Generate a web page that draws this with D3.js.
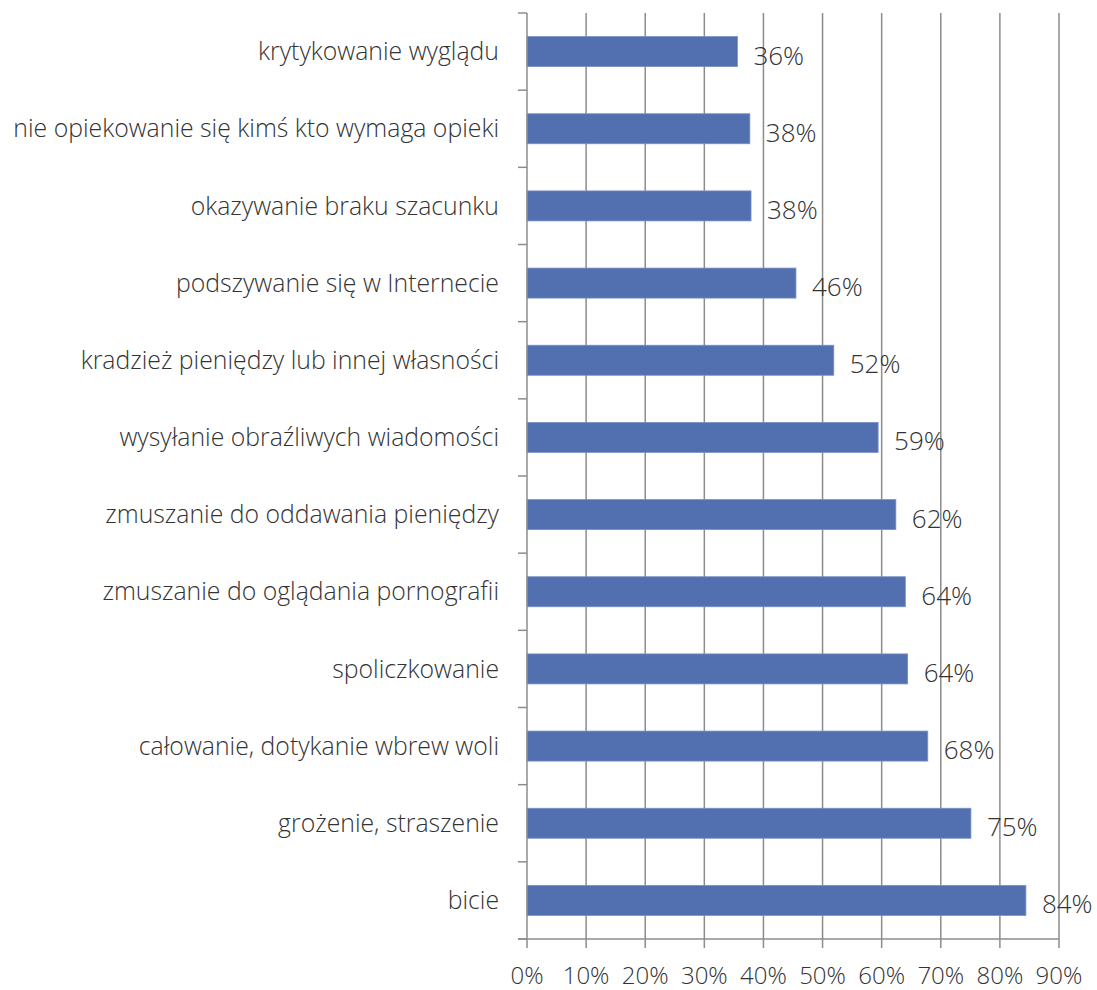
<!DOCTYPE html>
<html>
<head>
<meta charset="utf-8">
<script src="https://cdn.jsdelivr.net/npm/d3@7"></script>
<style>
  html, body { margin: 0; padding: 0; background: #ffffff; }
  svg { display: block; }
  text { font-family: "Open Sans", "Noto Sans", sans-serif; }
</style>
</head>
<body>
<svg id="chart" width="1097" height="990"></svg>
<script>
const categories = [
  "krytykowanie wyglądu",
  "nie opiekowanie się kimś kto wymaga opieki",
  "okazywanie braku szacunku",
  "podszywanie się w Internecie",
  "kradzież pieniędzy lub innej własności",
  "wysyłanie obraźliwych wiadomości",
  "zmuszanie do oddawania pieniędzy",
  "zmuszanie do oglądania pornografii",
  "spoliczkowanie",
  "całowanie, dotykanie wbrew woli",
  "grożenie, straszenie",
  "bicie"
];
const values = [0.356, 0.377, 0.379, 0.455, 0.519, 0.594, 0.624, 0.640, 0.644, 0.678, 0.751, 0.844];
const valueLabels = ["36%", "38%", "38%", "46%", "52%", "59%", "62%", "64%", "64%", "68%", "75%", "84%"];
const xTicks = [0, 0.1, 0.2, 0.3, 0.4, 0.5, 0.6, 0.7, 0.8, 0.9];
const xTickLabels = ["0%", "10%", "20%", "30%", "40%", "50%", "60%", "70%", "80%", "90%"];

(function () {
const svg = d3.select("#chart");
const pLeft = 527, pRight = 1059, pTop = 13, pBottom = 939;
const gridColor = "#8c8c8c";
const textColor = "#333333";

const x = d3.scaleLinear().domain([0, 0.9]).range([pLeft, pRight]);
const y = d3.scaleBand().domain(categories).range([pTop, pBottom])
  .paddingInner(0.611).paddingOuter(0.3055);

// vertical gridlines
svg.append("g").selectAll("line").data(xTicks.slice(1)).join("line")
  .attr("x1", d => x(d)).attr("x2", d => x(d))
  .attr("y1", pTop).attr("y2", pBottom)
  .attr("stroke", gridColor).attr("stroke-width", 1.5);

// bars
svg.append("g").selectAll("rect").data(categories).join("rect")
  .attr("x", x(0))
  .attr("y", d => y(d))
  .attr("width", (d, i) => x(values[i]) - x(0))
  .attr("height", y.bandwidth())
  .attr("fill", "#5270b0")
  .attr("stroke", "#7890c4")
  .attr("stroke-width", 0.8);

// y axis line and ticks at category boundaries
svg.append("line").attr("x1", pLeft).attr("x2", pLeft).attr("y1", pTop).attr("y2", pBottom)
  .attr("stroke", gridColor).attr("stroke-width", 1.5);
const boundaries = d3.range(categories.length + 1).map(i => pTop + i * y.step());
svg.append("g").selectAll("line").data(boundaries).join("line")
  .attr("x1", pLeft - 9).attr("x2", pLeft)
  .attr("y1", d => d).attr("y2", d => d)
  .attr("stroke", gridColor).attr("stroke-width", 1.5);

// x axis line and ticks
svg.append("line").attr("x1", pLeft - 9).attr("x2", pRight).attr("y1", pBottom).attr("y2", pBottom)
  .attr("stroke", gridColor).attr("stroke-width", 1.5);
svg.append("g").selectAll("line").data(xTicks).join("line")
  .attr("x1", d => x(d)).attr("x2", d => x(d))
  .attr("y1", pBottom).attr("y2", pBottom + 9)
  .attr("stroke", gridColor).attr("stroke-width", 1.5);

// x tick labels
svg.append("g").selectAll("text").data(xTicks).join("text")
  .attr("x", d => x(d)).attr("y", 984)
  .attr("text-anchor", "middle")
  .attr("font-size", 24).attr("font-weight", 300)
  .attr("fill", textColor)
  .text((d, i) => xTickLabels[i]);

// category labels
svg.append("g").selectAll("text").data(categories).join("text")
  .attr("x", 499)
  .attr("y", d => y(d) + y.bandwidth() / 2)
  .attr("dy", "0.35em")
  .attr("text-anchor", "end")
  .attr("font-size", 24.8).attr("font-weight", 300)
  .attr("fill", textColor)
  .text(d => d);

// value labels
svg.append("g").selectAll("text").data(categories).join("text")
  .attr("x", (d, i) => x(values[i]) + 16)
  .attr("y", d => y(d) + y.bandwidth() / 2 + 13)
  .attr("font-size", 26).attr("font-weight", 300)
  .attr("fill", textColor)
  .text((d, i) => valueLabels[i]);
})();
</script>
</body>
</html>
